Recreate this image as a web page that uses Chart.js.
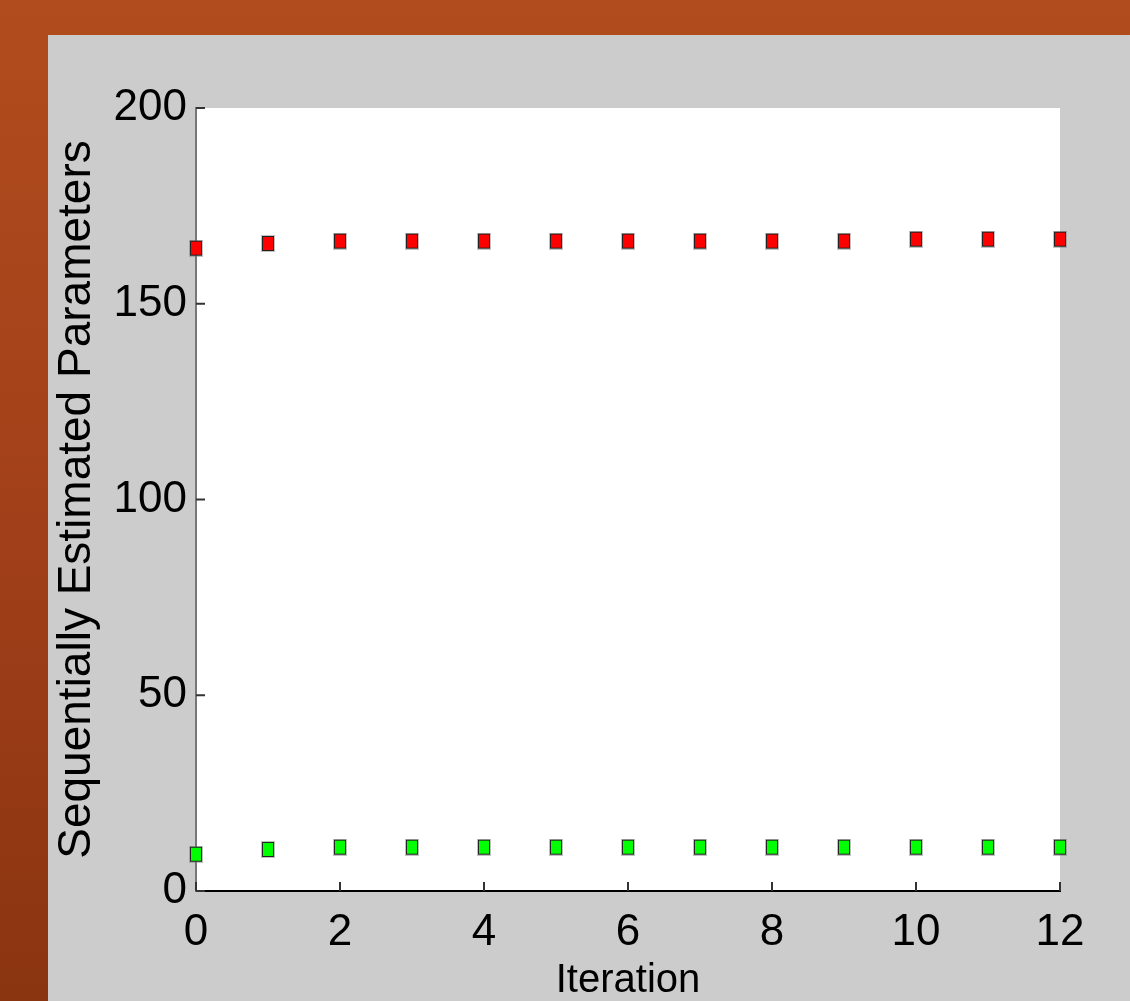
<!DOCTYPE html>
<html>
<head>
<meta charset="utf-8">
<script src="https://cdn.jsdelivr.net/npm/chart.js@4/dist/chart.umd.min.js"></script>
<style>
  html, body { margin: 0; padding: 0; }
  body {
    width: 1130px; height: 1001px; overflow: hidden; position: relative;
    background: linear-gradient(180deg, #b14c1d 0%, #a2401a 50%, #8a3410 100%);
  }
  #panel {
    position: absolute; left: 48px; top: 35px; width: 1082px; height: 966px;
    background: #cccccc;
  }
</style>
</head>
<body>
<div id="panel"><canvas id="chart" width="1082" height="966"></canvas></div>
<script>
const iterations = [0, 1, 2, 3, 4, 5, 6, 7, 8, 9, 10, 11, 12];
const redValues = [164.2, 165.4, 166.0, 166.0, 166.0, 166.0, 166.0, 166.0, 166.0, 166.0, 166.5, 166.5, 166.5];
const greenValues = [9.4, 10.6, 11.2, 11.2, 11.2, 11.2, 11.2, 11.2, 11.2, 11.2, 11.2, 11.2, 11.2];
const xTicks = [0, 2, 4, 6, 8, 10, 12];
const yTicks = [0, 50, 100, 150, 200];

// square marker, a bit taller than wide like the picture
function makeMarker(color) {
  const c = document.createElement('canvas');
  c.width = 14; c.height = 17;
  const g = c.getContext('2d');
  g.fillStyle = 'rgba(120,120,120,0.45)';
  g.fillRect(0, 0, 14, 17);
  g.fillStyle = '#222';
  g.fillRect(1, 1, 12, 15);
  g.fillStyle = color;
  g.fillRect(2, 2, 10, 13);
  return c;
}

const toPoints = vals => iterations.map((x, i) => ({ x, y: vals[i] }));

// white plot area + inward ticks like the original plot
const innerTicks = {
  id: 'innerTicks',
  beforeDraw(chart) {
    const { ctx, chartArea } = chart;
    ctx.save();
    ctx.fillStyle = '#ffffff';
    ctx.fillRect(chartArea.left, chartArea.top, chartArea.right - chartArea.left, chartArea.bottom - chartArea.top);
    ctx.restore();
  },
  afterDraw(chart) {
    const { ctx, chartArea, scales } = chart;
    ctx.save();
    ctx.strokeStyle = '#333';
    ctx.lineWidth = 2;
    xTicks.forEach(v => {
      const px = scales.x.getPixelForValue(v);
      ctx.beginPath();
      ctx.moveTo(px, chartArea.bottom);
      ctx.lineTo(px, chartArea.bottom - 9);
      ctx.stroke();
    });
    yTicks.forEach(v => {
      const py = scales.y.getPixelForValue(v);
      ctx.beginPath();
      ctx.moveTo(chartArea.left, py);
      ctx.lineTo(chartArea.left + 9, py);
      ctx.stroke();
    });
    ctx.restore();
  }
};

const font = 'Liberation Sans, Arial, sans-serif';

new Chart(document.getElementById('chart'), {
  type: 'scatter',
  data: {
    datasets: [
      { data: toPoints(redValues), pointStyle: makeMarker('#ff0000'), pointRadius: 8, clip: false },
      { data: toPoints(greenValues), pointStyle: makeMarker('#00ff00'), pointRadius: 8, clip: false },
    ],
  },
  options: {
    responsive: false,
    animation: false,
    layout: { padding: { left: 0, top: 73, right: 70, bottom: 0 } },
    plugins: { legend: { display: false }, tooltip: { enabled: false } },
    scales: {
      x: {
        type: 'linear', min: 0, max: 12,
        afterFit: s => { s.height = 110; },
        afterBuildTicks: s => { s.ticks = xTicks.map(v => ({ value: v })); },
        grid: { display: false, drawTicks: false },
        border: { display: true, color: '#000', width: 2 },
        ticks: { color: '#000', padding: 15, font: { family: font, size: 44 }, maxRotation: 0 },
        title: {
          display: true, text: 'Iteration', color: '#000',
          font: { family: font, size: 40, lineHeight: 1 }, padding: { top: 0, bottom: 0 },
        },
      },
      y: {
        type: 'linear', min: 0, max: 200,
        afterFit: s => { s.width = 148; },
        afterBuildTicks: s => { s.ticks = yTicks.map(v => ({ value: v })); },
        grid: { display: false, drawTicks: false },
        border: { display: true, color: '#777', width: 2 },
        ticks: { color: '#000', padding: 9, font: { family: font, size: 44 } },
        title: {
          display: true, text: 'Sequentially Estimated Parameters', color: '#000',
          font: { family: font, size: 46, lineHeight: 1.1 }, padding: { top: 4, bottom: 0 },
        },
      },
    },
  },
  plugins: [innerTicks],
});
</script>
</body>
</html>
